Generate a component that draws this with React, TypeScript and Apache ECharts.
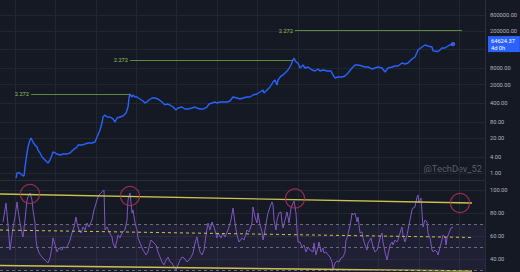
import React, { useEffect, useRef } from "react";
import * as echarts from "echarts";

// ---- data (time index on x) ----
const pricePoints: [number, number][] = [
  [16, 0.65], [17, 1.0], [19, 1.03], [22, 0.84], [24, 0.77], [25, 1.67], [27, 5.6], [28, 9.3], [30, 17], [31, 20.2],
  [33, 14.3], [35, 11.1], [37, 9.3], [38, 7.2], [40, 5.6], [42, 3.95], [44, 3.33], [47, 2.57], [48, 2.36], [50, 3.06],
  [52, 4.7], [53, 6.1], [55, 5.6], [57, 5.1], [60, 4.7], [63, 5.1], [67, 5.1], [70, 5.6], [73, 7.2], [77, 9.3],
  [78, 11.1], [82, 11.1], [85, 12.1], [88, 13.2], [92, 13.2], [95, 14.3], [97, 22], [100, 40], [102, 73], [103, 123],
  [105, 146], [107, 123], [110, 123], [113, 104], [115, 80], [117, 113], [120, 123], [123, 134], [126, 173], [128, 290],
  [129, 629], [130, 887], [132, 685], [133, 813], [135, 685], [137, 685], [140, 577], [143, 486], [145, 409], [147, 446],
  [149, 530], [152, 629], [155, 629], [158, 577], [162, 446], [165, 345], [167, 376], [170, 345], [173, 290], [176, 224],
  [178, 266], [182, 290], [185, 244], [188, 244], [192, 266], [195, 290], [197, 266], [200, 244], [203, 244], [207, 290],
  [209, 376], [212, 409], [215, 446], [217, 409], [220, 446], [223, 446], [227, 446], [230, 486], [233, 685], [237, 629],
  [240, 577], [243, 629], [247, 685], [250, 685], [253, 813], [257, 887], [260, 1053], [263, 1250], [264, 966], [267, 1250],
  [270, 1618], [273, 2488], [275, 2952], [277, 1922], [278, 2952], [281, 4160], [283, 4536], [286, 5870], [288, 6970], [291, 10700],
  [293, 16440], [294, 19540], [296, 13870], [298, 12710], [300, 8280], [303, 10700], [305, 8280], [308, 9020], [312, 6970], [315, 6400],
  [318, 7600], [320, 6400], [323, 6970], [327, 6400], [331, 6400], [333, 4540], [335, 3510], [338, 3820], [342, 3820], [345, 4160],
  [348, 5380], [352, 8280], [355, 10700], [358, 10700], [362, 9840], [365, 9020], [368, 9020], [372, 7600], [375, 8280], [378, 9020],
  [382, 8280], [385, 5870], [388, 8280], [392, 9020], [395, 9840], [398, 9840], [402, 12710], [405, 11670], [408, 12710], [412, 17950],
  [415, 21280], [418, 38900], [422, 50230], [425, 59700], [428, 54830], [432, 50230], [433, 36000], [437, 34000], [439, 36000], [442, 46130],
  [445, 46130], [448, 54830], [451, 62000], [453, 64624.37],
];

const rsiPoints: [number, number][] = [
  [3, 72.2], [6, 88.7], [8, 69.6], [10, 47.8], [13, 67.0], [15, 76.5], [17, 89.6], [18, 82.6], [20, 71.3], [22, 62.6],
  [23, 59.1], [25, 73.9], [27, 91.3], [28, 93.9], [30, 97.4], [32, 91.3], [33, 82.6], [35, 71.3], [36, 56.5], [37, 50.4],
  [39, 45.2], [42, 41.7], [45, 39.1], [48, 36.5], [50, 40.9], [52, 50.4], [53, 58.3], [55, 52.2], [57, 46.1], [59, 49.6],
  [62, 47.8], [63, 50.4], [66, 49.6], [68, 52.2], [70, 56.5], [72, 62.6], [74, 67.8], [76, 76.5], [77, 71.3], [79, 65.2],
  [81, 62.6], [83, 67.8], [85, 65.2], [87, 71.3], [89, 67.8], [92, 73.9], [94, 82.6], [97, 91.3], [99, 95.7], [102, 98.3],
  [104, 100], [105, 65.2], [107, 67.8], [109, 63.5], [112, 59.1], [113, 53.9], [115, 49.6], [117, 56.5], [118, 60.9], [120, 58.3],
  [122, 62.6], [123, 63.5], [125, 65.2], [127, 73.9], [128, 91.3], [130, 97.4], [132, 80.0], [133, 82.6], [135, 71.3], [137, 65.2],
  [138, 58.3], [140, 53.9], [143, 47.8], [146, 43.5], [148, 46.1], [149, 50.4], [151, 56.5], [153, 54.8], [156, 52.2], [158, 46.1],
  [160, 41.7], [162, 37.4], [164, 34.8], [166, 39.1], [168, 41.7], [170, 37.4], [172, 36.5], [174, 33.0], [176, 30.4], [178, 34.8],
  [180, 39.1], [182, 41.7], [184, 40.9], [187, 37.4], [189, 39.1], [191, 41.7], [193, 45.2], [195, 53.9], [197, 59.1], [198, 53.9],
  [200, 46.1], [202, 43.5], [204, 47.8], [206, 60.9], [208, 71.3], [210, 65.2], [212, 72.2], [214, 67.8], [217, 58.3], [218, 62.6],
  [221, 58.3], [223, 62.6], [225, 59.1], [228, 65.2], [231, 73.9], [233, 84.3], [235, 71.3], [237, 60.9], [239, 54.8], [242, 58.3],
  [244, 56.5], [247, 65.2], [249, 63.5], [252, 71.3], [253, 85.2], [255, 76.5], [257, 71.3], [258, 80.0], [260, 69.6], [262, 63.5],
  [263, 56.5], [265, 65.2], [267, 75.7], [268, 80.0], [270, 85.2], [272, 89.6], [273, 87.0], [274, 73.9], [276, 65.2], [277, 73.9],
  [279, 80.0], [281, 80.9], [282, 71.3], [283, 67.0], [285, 73.9], [287, 80.9], [288, 76.5], [289, 71.3], [291, 84.3], [293, 88.7],
  [294, 90.4], [296, 80.0], [297, 65.2], [298, 54.8], [300, 54.8], [302, 50.4], [304, 52.2], [306, 46.1], [308, 50.4], [310, 47.8],
  [313, 46.1], [314, 53.9], [316, 43.5], [318, 50.4], [319, 54.8], [321, 46.1], [323, 49.6], [324, 45.2], [326, 46.1], [328, 43.5],
  [330, 41.7], [332, 37.4], [333, 30.4], [335, 36.5], [337, 38.3], [339, 37.4], [341, 40.9], [343, 41.7], [345, 46.1], [346, 56.5],
  [347, 58.3], [349, 65.2], [351, 73.9], [352, 80.0], [353, 78.3], [355, 80.0], [357, 72.2], [358, 76.5], [360, 62.6], [362, 63.5],
  [363, 58.3], [365, 52.2], [367, 47.8], [368, 53.9], [371, 58.3], [373, 50.4], [375, 46.1], [377, 47.8], [378, 50.4], [380, 58.3],
  [382, 62.6], [383, 54.8], [385, 46.1], [387, 39.1], [388, 43.5], [390, 52.2], [392, 54.8], [393, 52.2], [395, 56.5], [397, 54.8],
  [398, 56.5], [400, 62.6], [402, 67.8], [403, 60.9], [405, 54.8], [407, 60.9], [408, 65.2], [410, 73.9], [412, 82.6], [413, 84.3],
  [415, 85.2], [417, 93.9], [418, 95.7], [419, 88.7], [421, 93.0], [422, 80.0], [423, 67.8], [425, 73.9], [427, 72.2], [428, 62.6],
  [430, 58.3], [432, 47.8], [433, 46.1], [435, 47.8], [437, 46.1], [438, 43.5], [440, 50.4], [442, 56.5], [443, 60.9], [445, 59.1],
  [446, 52.2], [447, 58.3], [449, 62.6], [451, 67.0], [453, 67.8],
];

// 2.272 extension levels: [from t, to t, price]
const extensionLevels: [number, number, number][] = [
  [31, 130, 887],
  [130, 293, 16440],
  [295, 462, 207000],
];
const extensionLabel = "2.272";

// RSI trend lines: [[t, rsi], [t, rsi]]
const rsiUpperTrend: [number, number][] = [[0, 96.5], [472, 88.7]];
const rsiMidTrend: [number, number][] = [[0, 65.2], [472, 58.7]];
const rsiLowerTrend: [number, number][] = [[0, 34.3], [472, 29.6]];

// circled touches of the upper trend line
const rsiTouches: [number, number][] = [[30, 96.5], [130, 94.8], [295, 92.6], [460, 88.7]];

const rsiLevels = [70, 50, 30];
const priceTicks = [1, 4, 20, 80, 400, 2000, 8000, 40000, 200000, 800000];
const priceLabelTicks = [1, 4, 20, 80, 400, 2000, 8000, 200000, 800000];
const rsiTicks = [40, 60, 80, 100];
const periodMarks = [15, 55.4, 95.8, 136.2, 176.6, 217, 257.4, 297.8, 338.2, 378.6, 419, 459.4];
const countdown = "4d 0h";
const watermark = "@TechDev_52";

const T_MIN = 0;
const T_MAX = 485;
const LOG_MIN = -0.261;
const LOG_MAX = 6.455;
const RSI_MIN = 28.7;
const RSI_MAX = 107.8;

// ---- styles ----
const BG = "#151924";
const GRID = "#222631";
const BORDER = "#2a2e39";
const AXIS_TEXT = "#b2b5be";
const FONT = "Roboto, 'Liberation Sans', sans-serif";
const L = (p: number) => Math.log10(p);

export default function App() {
  const ref = useRef<HTMLDivElement>(null);

  useEffect(() => {
    document.body.style.margin = "0";
    const chart = echarts.init(ref.current!, null, { renderer: "svg" });
    const last = pricePoints[pricePoints.length - 1];

    const xAxisFor = (i: number) => ({
      type: "value",
      gridIndex: i,
      min: T_MIN,
      max: T_MAX,
      axisLine: { show: i === 0, onZero: false, lineStyle: { color: BORDER, width: 1 } },
      axisTick: { show: false, customValues: periodMarks },
      axisLabel: { show: false },
      splitLine: { show: true, lineStyle: { color: GRID, width: 1 } },
    });

    const option: any = {
      animation: false,
      backgroundColor: BG,
      grid: [
        { left: 0, top: 0, width: 485, height: 180, containLabel: false, outerBoundsMode: "none" },
        { left: 0, top: 181, width: 485, height: 91, containLabel: false, outerBoundsMode: "none" },
      ],
      xAxis: [xAxisFor(0), xAxisFor(1)],
      yAxis: [
        {
          type: "value",
          gridIndex: 0,
          position: "right",
          min: LOG_MIN,
          max: LOG_MAX,
          axisLine: { show: true, onZero: false, lineStyle: { color: BORDER } },
          axisTick: { show: false, customValues: priceTicks.map(L) },
          axisLabel: {
            customValues: priceLabelTicks.map(L),
            formatter: (v: number) => Math.pow(10, v).toFixed(2),
            color: AXIS_TEXT,
            fontSize: 5.7,
            fontFamily: FONT,
            margin: 5,
          },
          splitLine: { show: true, lineStyle: { color: GRID } },
        },
        {
          type: "value",
          gridIndex: 1,
          position: "right",
          min: RSI_MIN,
          max: RSI_MAX,
          axisLine: { show: true, onZero: false, lineStyle: { color: BORDER } },
          axisTick: { show: false, customValues: rsiTicks },
          axisLabel: {
            customValues: rsiTicks,
            formatter: (v: number) => v.toFixed(2),
            color: AXIS_TEXT,
            fontSize: 5.7,
            fontFamily: FONT,
            margin: 5,
          },
          splitLine: { show: true, lineStyle: { color: GRID } },
        },
      ],
      series: [
        {
          name: "price",
          type: "line",
          xAxisIndex: 0,
          yAxisIndex: 0,
          data: pricePoints.map(([t, p]) => [t, L(p)]),
          showSymbol: false,
          symbol: "none",
          lineStyle: { color: "#2962ff", width: 1.4 },
          z: 3,
          markLine: {
            silent: true,
            symbol: ["none", "none"],
            lineStyle: { color: "#5a8a3c", width: 1, type: "solid" },
            label: {
              show: true,
              position: "start",
              formatter: extensionLabel,
              color: "#8fc35a",
              fontSize: 5.7,
              fontFamily: FONT,
              distance: 2,
              padding: [0, 0, 7, 0],
            },
            data: extensionLevels.map(([a, b, p]) => [
              { coord: [a, L(p)] },
              { coord: [b, L(p)] },
            ]),
          },
        },
        {
          name: "last",
          type: "scatter",
          xAxisIndex: 0,
          yAxisIndex: 0,
          data: [[last[0], L(last[1])]],
          symbolSize: 4.5,
          itemStyle: { color: "#3d6bff" },
          z: 6,
          markLine: {
            silent: true,
            symbol: ["none", "none"],
            lineStyle: { color: "rgba(0,0,0,0)", width: 0 },
            label: {
              show: true,
              position: "end",
              formatter: `${last[1].toFixed(2)}\n${countdown}`,
              color: "#ffffff",
              backgroundColor: "#2962ff",
              fontSize: 5.7,
              lineHeight: 7,
              fontFamily: FONT,
              padding: [1, 5, 1, 3],
              distance: 3,
              align: "left",
            },
            data: [{ yAxis: L(last[1]) }],
          },
        },
        {
          name: "rsi",
          type: "line",
          xAxisIndex: 1,
          yAxisIndex: 1,
          data: rsiPoints,
          showSymbol: false,
          symbol: "none",
          lineStyle: { color: "#7e57c2", width: 1 },
          z: 3,
          markArea: {
            silent: true,
            itemStyle: { color: "rgba(126,87,194,0.11)" },
            data: [[{ yAxis: rsiLevels[2] }, { yAxis: rsiLevels[0] }]],
          },
          markLine: {
            silent: true,
            symbol: ["none", "none"],
            label: { show: false },
            lineStyle: { color: "#6a6d78", width: 1, type: [3, 3] },
            data: rsiLevels.map((v) => ({ yAxis: v })),
          },
        },
        ...[
          { d: rsiUpperTrend, type: "solid", w: 1.4 },
          { d: rsiMidTrend, type: [3, 3], w: 1 },
          { d: rsiLowerTrend, type: "solid", w: 1.4 },
        ].map((s) => ({
          type: "line",
          xAxisIndex: 1,
          yAxisIndex: 1,
          data: s.d,
          showSymbol: false,
          symbol: "none",
          lineStyle: { color: "#cdc34c", width: s.w, type: s.type },
          z: 4,
        })),
        {
          name: "touches",
          type: "scatter",
          xAxisIndex: 1,
          yAxisIndex: 1,
          data: rsiTouches,
          symbol: "circle",
          symbolSize: 19,
          itemStyle: { color: "rgba(0,0,0,0)", borderColor: "#b5325b", borderWidth: 1.2 },
          z: 5,
        },
      ],
      graphic: [
        {
          type: "text",
          right: 38,
          top: 164,
          style: {
            text: watermark,
            fill: "#5a5e6a",
            fontSize: 9.3,
            fontFamily: FONT,
          },
          silent: true,
        },
      ],
    };

    chart.setOption(option);
    return () => chart.dispose();
  }, []);

  return <div ref={ref} style={{ width: 520, height: 272 }} />;
}
